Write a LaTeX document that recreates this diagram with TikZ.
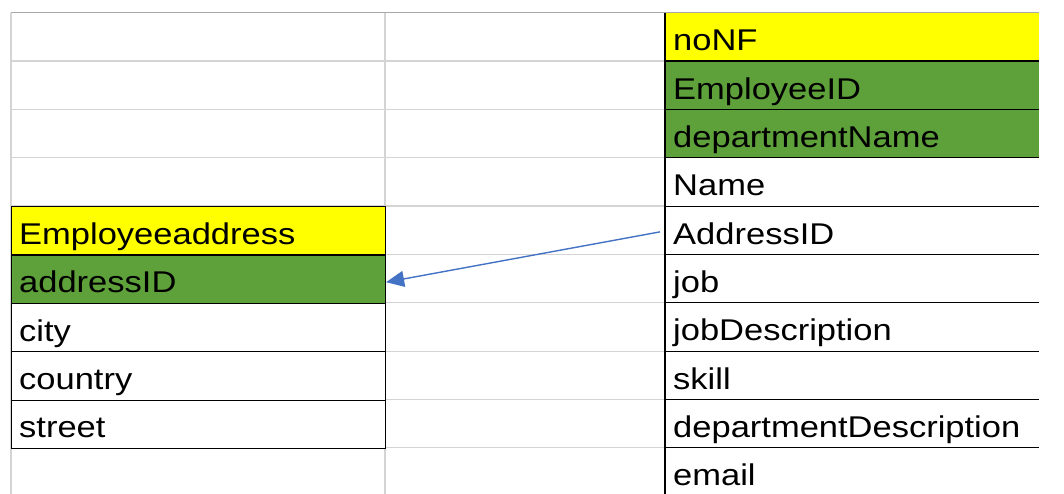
\documentclass[tikz,border=0pt]{standalone}
\usepackage{fontspec}
\setmainfont{Liberation Sans}[FakeStretch=1.15]
\usetikzlibrary{arrows.meta}
\definecolor{xlyellow}{HTML}{FFFF00}
\definecolor{xlgreen}{HTML}{5EA03A}
\definecolor{gridgray}{HTML}{D4D4D4}
\definecolor{topgray}{HTML}{A8A8A8}
\definecolor{arrowblue}{HTML}{4472C4}
\begin{document}
\begin{tikzpicture}[x=1pt,y=-1pt,
  cell/.style={rectangle, inner sep=0pt, minimum width=374pt, minimum height=48.35pt, anchor=north west},
  lbl/.style={anchor=base west, inner sep=0pt, font=\fontsize{30}{35}\selectfont},
  gridline/.style={gridgray, line width=1.2pt},
  tableline/.style={black, line width=1.1pt},
  fkarrow/.style={arrowblue, line width=1.4pt, -{Triangle[length=18pt,width=16pt]}}]
\useasboundingbox[fill=white] (0,0) rectangle (1064,494);
% spreadsheet grid
\foreach \k in {1,...,9} \draw[gridline] (11,12.7+48.35*\k) -- (665,12.7+48.35*\k);
\draw[gridline] (11,12.7) -- (11,494);
\draw[gridline] (385,12.7) -- (385,494);
% right table
\foreach \t/\c [count=\i from 0] in {noNF/xlyellow, EmployeeID/xlgreen, departmentName/xlgreen, Name/white, AddressID/white, job/white, jobDescription/white, skill/white, departmentDescription/white, email/white} {
  \node[cell, fill=\c] (r\i) at (665,12.7+48.35*\i) {};
  \node[lbl] (rt\i) at ([xshift=8pt,yshift=-13.6pt]r\i.west) {\t};
}
\foreach \i in {1,...,9} \draw[tableline] (r\i.north west) -- (r\i.north east);
\draw[topgray, line width=1.2pt] (11,12.7) -- (r0.north east);
\draw[tableline] (r0.north west) -- (r9.south west);
% left table
\foreach \t/\c [count=\i from 0] in {Employeeaddress/xlyellow, addressID/xlgreen, city/white, country/white, street/white} {
  \node[cell, fill=\c, draw=black, line width=1.1pt] (l\i) at (11,206.1+48.35*\i) {};
  \node[lbl] (lt\i) at ([xshift=8pt,yshift=-13.6pt]l\i.west) {\t};
}
% foreign key arrow
\draw[fkarrow] ([xshift=-5pt,yshift=-1.4pt]r4.west) -- ([yshift=-3pt]l1.east);
\end{tikzpicture}
\end{document}
